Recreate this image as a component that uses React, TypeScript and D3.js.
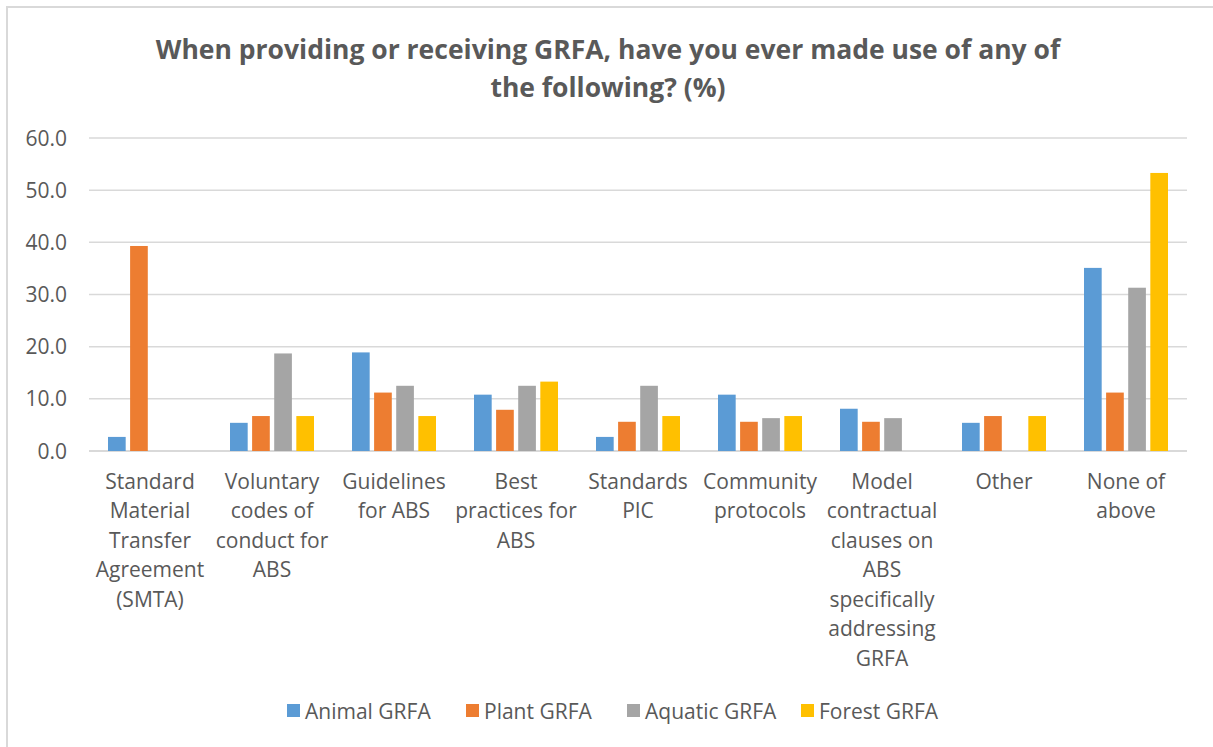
import React from "react";
import * as d3 from "d3";

const categories: string[][] = [
  ["Standard", "Material", "Transfer", "Agreement", "(SMTA)"],
  ["Voluntary", "codes of", "conduct for", "ABS"],
  ["Guidelines", "for ABS"],
  ["Best", "practices for", "ABS"],
  ["Standards", "PIC"],
  ["Community", "protocols"],
  ["Model", "contractual", "clauses on", "ABS", "specifically", "addressing", "GRFA"],
  ["Other"],
  ["None of", "above"],
];
const seriesNames = ["Animal GRFA", "Plant GRFA", "Aquatic GRFA", "Forest GRFA"];
const seriesColors = ["#5b9bd5", "#ed7d31", "#a5a5a5", "#ffc000"];
const animal = [2.7, 5.4, 18.9, 10.8, 2.7, 10.8, 8.1, 5.4, 35.1];
const plant = [39.3, 6.7, 11.2, 7.9, 5.6, 5.6, 5.6, 6.7, 11.2];
const aquatic = [0, 18.7, 12.5, 12.5, 12.5, 6.3, 6.3, 0, 31.3];
const forest = [0, 6.7, 6.7, 13.3, 6.7, 6.7, 0, 6.7, 53.3];
const yTicks = [0, 10, 20, 30, 40, 50, 60];
const titleLines = [
  "When providing or receiving GRFA, have you ever made use of any of",
  "the following? (%)",
];

const seriesValues = [animal, plant, aquatic, forest];

export default function App() {
  const W = 1213, H = 747;
  const left = 89, right = 1187, top = 138, bottom = 451;
  const font = "'Open Sans', sans-serif";
  const txt = "#595959";

  const catKeys = categories.map((c, i) => String(i));
  const x0 = d3.scaleBand<string>().domain(catKeys).range([left, right]).padding(0);
  const groupW = 84;
  const x1 = d3
    .scaleBand<string>()
    .domain(seriesNames)
    .range([(x0.bandwidth() - groupW) / 2, (x0.bandwidth() + groupW) / 2])
    .paddingInner(0.2)
    .paddingOuter(0);
  const y = d3.scaleLinear().domain([0, 60]).range([bottom, top]);

  const legendX = [287, 466, 627, 801];

  return (
    <svg
      width={W}
      height={H}
      style={{ position: "absolute", left: 0, top: 0, background: "#fff" }}
      fontFamily={font}
    >
      <rect x={7} y={7} width={W + 10} height={H + 10} fill="#fff" stroke="#d9d9d9" strokeWidth={2} />
      {titleLines.map((t, i) => (
        <text
          key={i}
          x={608}
          y={59 + i * 38}
          textAnchor="middle"
          fontSize={26.5}
          fontWeight="bold"
          fill={txt}
        >
          {t}
        </text>
      ))}
      {yTicks.map((v) => (
        <g key={v}>
          <line x1={left} x2={right} y1={y(v)} y2={y(v)} stroke="#d9d9d9" strokeWidth={v === 0 ? 2 : 1.5} />
          <text x={67} y={y(v) + 7.5} textAnchor="end" fontSize={21} fill={txt}>
            {v.toFixed(1)}
          </text>
        </g>
      ))}
      {categories.map((c, ci) => (
        <g key={ci} transform={`translate(${x0(String(ci))},0)`}>
          {seriesNames.map((s, si) => {
            const v = seriesValues[si][ci];
            if (!v) return null;
            return (
              <rect
                key={s}
                x={x1(s)}
                y={y(v)}
                width={x1.bandwidth()}
                height={y(0) - y(v)}
                fill={seriesColors[si]}
              />
            );
          })}
          {c.map((line, li) => (
            <text
              key={li}
              x={x0.bandwidth() / 2}
              y={488.5 + li * 29.5}
              textAnchor="middle"
              fontSize={21}
              fill={txt}
            >
              {line}
            </text>
          ))}
        </g>
      ))}
      {seriesNames.map((s, si) => (
        <g key={s}>
          <rect x={legendX[si]} y={704} width={13} height={13} fill={seriesColors[si]} />
          <text x={legendX[si] + 18} y={718.5} fontSize={21} fill={txt}>
            {s}
          </text>
        </g>
      ))}
    </svg>
  );
}
